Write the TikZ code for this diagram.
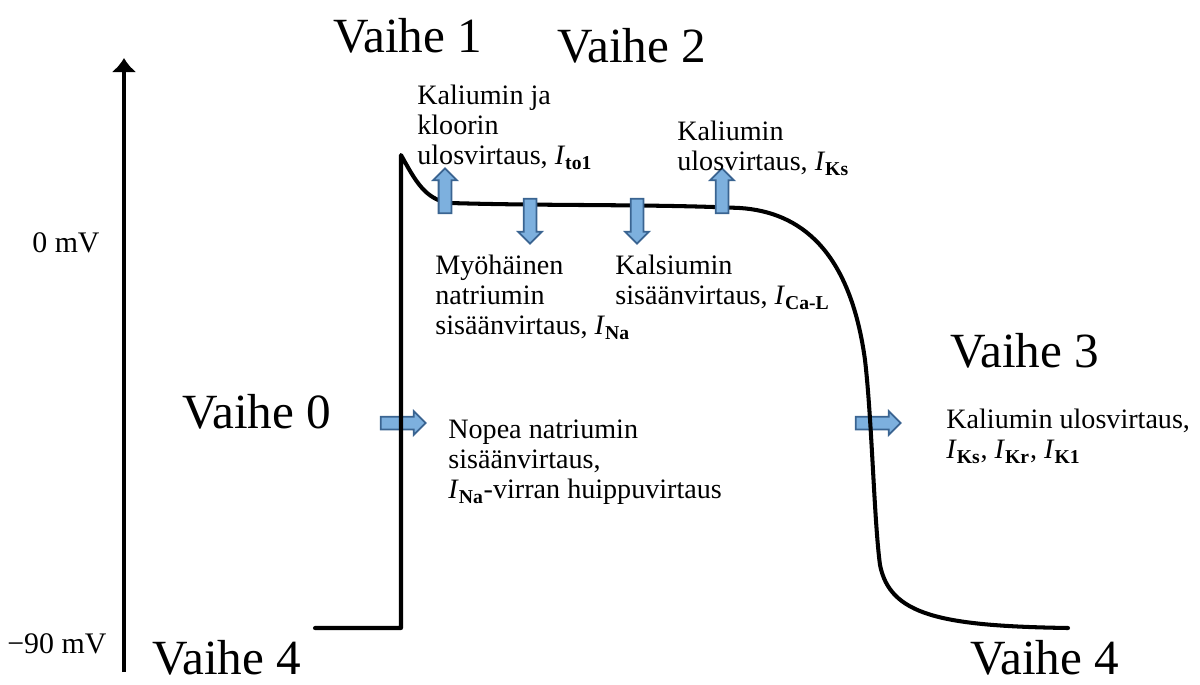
\documentclass[tikz,border=0pt]{standalone}
\usepackage{fontspec}
\setmainfont{Liberation Serif}
\usetikzlibrary{arrows.meta,shapes.arrows}

\definecolor{nuolisin}{RGB}{125,176,222}
\definecolor{nuolireuna}{RGB}{58,100,145}
\newcommand{\virta}[1]{\textit{I}\textsubscript{\textbf{#1}}}

\begin{document}
\begin{tikzpicture}[x=0.02cm,y=-0.02cm,
	vaihe/.style={anchor=base west,inner sep=0pt,font=\rmfamily\fontsize{28}{30}\selectfont},
	selite/.style={anchor=north west,inner sep=0pt,align=left,font=\rmfamily\fontsize{16}{17}\selectfont},
	jannite/.style={anchor=base west,inner sep=0pt,font=\rmfamily\fontsize{17}{19}\selectfont},
	kayra/.style={line width=2.3pt,line join=round,line cap=round},
	ionivirta/.style={single arrow,draw=nuolireuna,fill=nuolisin,line width=1pt,
		inner sep=0.11cm,single arrow head extend=0.11cm,minimum height=0.9cm}]
			\useasboundingbox (0,0) rectangle (1200,684);
			
			% We draw the voltage axis here
			\coordinate (pohja) at (124,672);
			\coordinate (karki) at (124,58);
			\draw[line width=2.3pt,-{Latex[length=0.28cm,width=0.5cm]}] (pohja) -- (karki);
			\node[jannite] (nolla) at (32,252) {0 mV};
			\node[jannite] (miinus) at (7,653) {−90 mV};
			
			% sideways currents, under the curve
			\node[ionivirta] (nopea) at (400,423) {};
			\node[ionivirta] (kalium3) at (875,423) {};
			
			% the action potential
			\draw[kayra] (315,628) -- (401,628) -- (401,155)
				.. controls (415,180) and (425,200) .. (450,203)
				.. controls (550,206) and (650,204) .. (740,208)
				.. controls (800,212) and (850,250) .. (865,360)
				.. controls (872,420) and (874,520) .. (880,565)
				.. controls (890,615) and (940,626) .. (1068,628);
			
			% currents on the plateau
			\node[ionivirta,shape border rotate=90] (ito) at (445,194) {};
			\node[ionivirta,shape border rotate=270] (myoh) at (530,218) {};
			\node[ionivirta,shape border rotate=270] (kalsium) at (637,218) {};
			\node[ionivirta,shape border rotate=90] (iks) at (722,194) {};
			
			% phases
			\node[vaihe] (vaihe1) at (333,52) {Vaihe 1};
			\node[vaihe] (vaihe2) at (557,62) {Vaihe 2};
			\node[vaihe] (vaihe0) at (182,428) {Vaihe 0};
			\node[vaihe] (vaihe3) at (950,367) {Vaihe 3};
			\node[vaihe] (vaihe4a) at (152,674) {Vaihe 4};
			\node[vaihe] (vaihe4b) at (970,674) {Vaihe 4};
			
			% explanations
			\node[selite] (ito teksti) at (417,85) {Kaliumin ja\\kloorin\\ulosvirtaus, \virta{to1}};
			\node[selite] (iks teksti) at (677,121) {Kaliumin\\ulosvirtaus, \virta{Ks}};
			\node[selite] (myoh teksti) at (435,255) {Myöhäinen\\natriumin\\sisäänvirtaus, \virta{Na}};
			\node[selite] (kalsium teksti) at (615,255) {Kalsiumin\\sisäänvirtaus, \virta{Ca-L}};
			\node[selite] (nopea teksti) at (448,420) {Nopea natriumin\\sisäänvirtaus,\\\virta{Na}-virran huippuvirtaus};
			\node[selite] (kalium3 teksti) at (946,409) {Kaliumin ulosvirtaus,\\\virta{Ks}, \virta{Kr}, \virta{K1}};
			
		\end{tikzpicture}
\end{document}
